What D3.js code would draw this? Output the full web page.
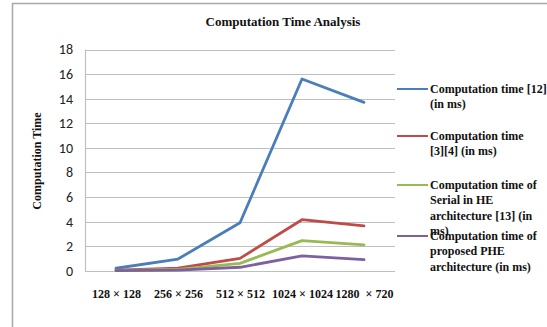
<!DOCTYPE html>
<html>
<head>
<meta charset="utf-8">
<script src="https://cdn.jsdelivr.net/npm/d3@7"></script>
<style>
  html, body { margin: 0; padding: 0; background: #fff; }
  svg { display: block; }
</style>
</head>
<body>
<svg id="chart" width="547" height="327"></svg>
<script>
const categories = ["128 × 128", "256 × 256", "512 × 512", "1024 × 1024", "1280  × 720"];
const seriesNames = [
  ["Computation time [12]", "(in ms)"],
  ["Computation time", "[3][4] (in ms)"],
  ["Computation time of", "Serial in HE", "architecture [13] (in", "ms)"],
  ["Computation time of", "proposed PHE", "architecture (in ms)"]
];
const blueValues   = [0.2, 0.95, 3.9, 15.6, 13.7];
const redValues    = [0.05, 0.2, 1.0, 4.15, 3.65];
const greenValues  = [0.02, 0.1, 0.6, 2.45, 2.1];
const purpleValues = [0.01, 0.05, 0.28, 1.2, 0.9];
const yTicks = [0, 2, 4, 6, 8, 10, 12, 14, 16, 18];
const colors = ["#4A7EBB", "#BE4B48", "#98B954", "#7D60A0"];
const legendY = [89, 136, 185, 236];

const series = [blueValues, redValues, greenValues, purpleValues];

const svg = d3.select("#chart");
const plot = {left: 85, right: 395, top: 49.5, bottom: 270.7};

// outer frame
svg.append("path")
  .attr("d", "M12.5,330 L12.5,3.5 L560,3.5")
  .attr("fill", "none").attr("stroke", "#a9a9a9").attr("stroke-width", 1.5);

const x = d3.scalePoint().domain(categories).range([plot.left, plot.right]).padding(0.5);
const y = d3.scaleLinear().domain([0, 18]).range([plot.bottom, plot.top]);

// gridlines
svg.append("g").selectAll("line").data(yTicks).join("line")
  .attr("x1", plot.left).attr("x2", plot.right)
  .attr("y1", d => Math.round(y(d)) + 0.5).attr("y2", d => Math.round(y(d)) + 0.5)
  .attr("stroke", "#bfbfbf").attr("stroke-width", 1.2);

// left axis line
svg.append("line")
  .attr("x1", plot.left + 0.5).attr("x2", plot.left + 0.5)
  .attr("y1", plot.top).attr("y2", plot.bottom + 1)
  .attr("stroke", "#bfbfbf").attr("stroke-width", 1.2);

// y tick labels
const yAxis = d3.axisLeft(y).tickValues(yTicks).tickSize(0).tickPadding(12);
const gy = svg.append("g").attr("transform", `translate(${plot.left},0)`).call(yAxis);
gy.select(".domain").remove();
gy.selectAll("text")
  .attr("font-family", "Carlito, Lato, 'Liberation Sans', sans-serif")
  .attr("font-size", 14).attr("fill", "#222");

// x tick labels
const xAxis = d3.axisBottom(x).tickSize(0).tickPadding(0);
const gx = svg.append("g").attr("transform", `translate(0,${plot.bottom})`).call(xAxis);
gx.select(".domain").remove();
gx.selectAll("text")
  .attr("y", 27).attr("dy", 0)
  .attr("font-family", "'Liberation Serif', 'Times New Roman', serif")
  .attr("font-weight", "bold").attr("font-size", 12).attr("fill", "#111")
  .style("white-space", "pre");

// lines
const line = d3.line().x((d, i) => x(categories[i])).y(d => y(d));
svg.append("g").selectAll("path").data(series).join("path")
  .attr("d", d => line(d))
  .attr("fill", "none")
  .attr("stroke", (d, i) => colors[i])
  .attr("stroke-width", 2.8)
  .attr("stroke-linejoin", "round")
  .attr("stroke-linecap", "round");

// title
svg.append("text")
  .attr("x", 283).attr("y", 26)
  .attr("text-anchor", "middle")
  .attr("font-family", "'Liberation Serif', 'Times New Roman', serif")
  .attr("font-weight", "bold").attr("font-size", 13).attr("fill", "#111")
  .text("Computation Time Analysis");

// y title
svg.append("text")
  .attr("transform", "translate(41,161) rotate(-90)")
  .attr("text-anchor", "middle")
  .attr("font-family", "'Liberation Serif', 'Times New Roman', serif")
  .attr("font-weight", "bold").attr("font-size", 12).attr("fill", "#111")
  .text("Computation Time");

// legend
const lg = svg.append("g");
seriesNames.forEach((lines, i) => {
  const ly = legendY[i];
  lg.append("line")
    .attr("x1", 397).attr("x2", 428).attr("y1", ly).attr("y2", ly)
    .attr("stroke", colors[i]).attr("stroke-width", 2);
  const t = lg.append("text")
    .attr("font-family", "'Liberation Serif', 'Times New Roman', serif")
    .attr("font-weight", "bold").attr("font-size", 12).attr("fill", "#111");
  lines.forEach((s, j) => {
    t.append("tspan").attr("x", 430).attr("y", ly + 4 + j * 15.3).text(s);
  });
});
</script>
</body>
</html>
